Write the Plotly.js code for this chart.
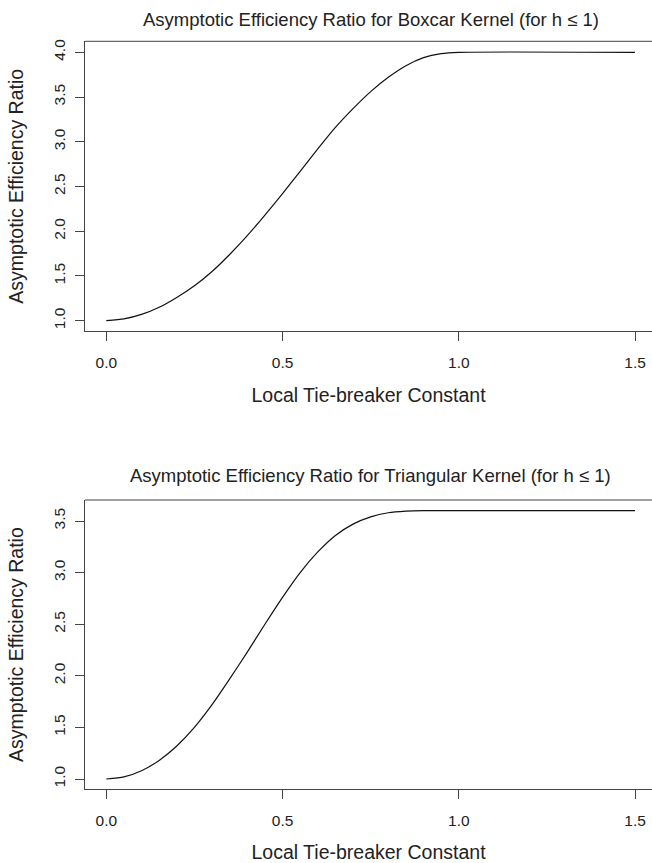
<!DOCTYPE html>
<html><head><meta charset="utf-8">
<script src="https://cdn.plot.ly/plotly-3.0.1.min.js"></script>
<style>html,body{margin:0;padding:0;background:#fff}</style>
</head><body>
<div id="chart" style="width:652px;height:863px"></div>
<script>
const tieBreaker = [0, 0.05, 0.1, 0.15, 0.2, 0.25, 0.3, 0.35, 0.4, 0.45, 0.5, 0.55, 0.6, 0.65, 0.7, 0.75, 0.8, 0.85, 0.9, 0.95, 1.0, 1.5];
const boxcarRatio = [1.00, 1.02, 1.07, 1.15, 1.26, 1.39, 1.55, 1.74, 1.95, 2.18, 2.42, 2.67, 2.92, 3.16, 3.37, 3.56, 3.72, 3.85, 3.94, 3.985, 4.00, 4.00];
const triangularRatio = [1.00, 1.02, 1.08, 1.18, 1.32, 1.50, 1.72, 1.97, 2.23, 2.50, 2.76, 3.00, 3.20, 3.36, 3.47, 3.54, 3.58, 3.595, 3.60, 3.60, 3.60, 3.60];
const xTickVals = [0, 0.5, 1.0, 1.5];
const xTickText = ['0.0', '0.5', '1.0', '1.5'];
const yTickVals1 = [1.0, 1.5, 2.0, 2.5, 3.0, 3.5, 4.0];
const yTickText1 = ['1.0', '1.5', '2.0', '2.5', '3.0', '3.5', '4.0'];
const yTickVals2 = [1.0, 1.5, 2.0, 2.5, 3.0, 3.5];
const yTickText2 = ['1.0', '1.5', '2.0', '2.5', '3.0', '3.5'];
const title1 = 'Asymptotic Efficiency Ratio for Boxcar Kernel (for h \u2264 1)';
const title2 = 'Asymptotic Efficiency Ratio for Triangular Kernel (for h \u2264 1)';
const xTitle = 'Local Tie-breaker Constant';
const yTitle = 'Asymptotic Efficiency Ratio';

const FONT = 'Liberation Sans, Arial, Helvetica, sans-serif';
const W = 652, H = 863;
const xDom = [85 / W, 1];

function xAxis(anchor) {
  return {
    anchor: anchor, domain: xDom, range: [-0.0604, 1.5481],
    tickmode: 'array', tickvals: xTickVals, ticktext: xTickText,
    ticks: 'outside', ticklen: 9, tickwidth: 1, tickcolor: '#444',
    showline: true, linecolor: '#444', linewidth: 1,
    showgrid: false, zeroline: false, ticklabelstandoff: 8,
    tickfont: {family: FONT, size: 15.5, color: '#222'},
    title: {text: xTitle, font: {family: FONT, size: 19.5, color: '#222'}, standoff: 18}
  };
}
function yAxis(anchor, dom, rng, tv, tt) {
  return {
    anchor: anchor, domain: dom, range: rng,
    tickmode: 'array', tickvals: tv, ticktext: tt, tickangle: -90,
    ticks: 'outside', ticklen: 9, tickwidth: 1, tickcolor: '#444',
    showline: true, linecolor: '#444', linewidth: 1,
    showgrid: false, zeroline: false, ticklabelstandoff: 4,
    tickfont: {family: FONT, size: 15.5, color: '#222'},
    title: {text: yTitle, font: {family: FONT, size: 19.5, color: '#222'}, standoff: 21}
  };
}

const data = [
  {x: tieBreaker, y: boxcarRatio, xaxis: 'x', yaxis: 'y', type: 'scatter', mode: 'lines',
   line: {color: '#111', width: 1.2, shape: 'spline', smoothing: 0.6}, hoverinfo: 'skip'},
  {x: tieBreaker, y: triangularRatio, xaxis: 'x2', yaxis: 'y2', type: 'scatter', mode: 'lines',
   line: {color: '#111', width: 1.2, shape: 'spline', smoothing: 0.6}, hoverinfo: 'skip'}
];

const layout = {
  width: W, height: H, margin: {l: 0, r: 0, t: 0, b: 0},
  paper_bgcolor: '#fff', plot_bgcolor: '#fff', showlegend: false,
  xaxis: xAxis('y'),
  yaxis: yAxis('x', [(H - 331.3) / H, (H - 41.3) / H], [0.8816, 4.1229], yTickVals1, yTickText1),
  xaxis2: xAxis('y2'),
  yaxis2: yAxis('x2', [(H - 789.3) / H, (H - 500) / H], [0.9002, 3.7035], yTickVals2, yTickText2),
  shapes: [
    {type: 'line', xref: 'x domain', yref: 'y domain', x0: 0, x1: 1, y0: 1, y1: 1, line: {color: '#444', width: 1}},
    {type: 'line', xref: 'x2 domain', yref: 'y2 domain', x0: 0, x1: 1, y0: 1, y1: 1, line: {color: '#444', width: 1}}
  ],
  annotations: [
    {text: title1, xref: 'paper', yref: 'paper', x: 370.5 / W, y: (H - 20) / H, xanchor: 'center', yanchor: 'middle', showarrow: false, font: {family: FONT, size: 18.5, color: '#222'}},
    {text: title2, xref: 'paper', yref: 'paper', x: 370.5 / W, y: (H - 476) / H, xanchor: 'center', yanchor: 'middle', showarrow: false, font: {family: FONT, size: 18.5, color: '#222'}}
  ]
};

Plotly.newPlot('chart', data, layout, {staticPlot: true, displayModeBar: false});
</script>
</body></html>
